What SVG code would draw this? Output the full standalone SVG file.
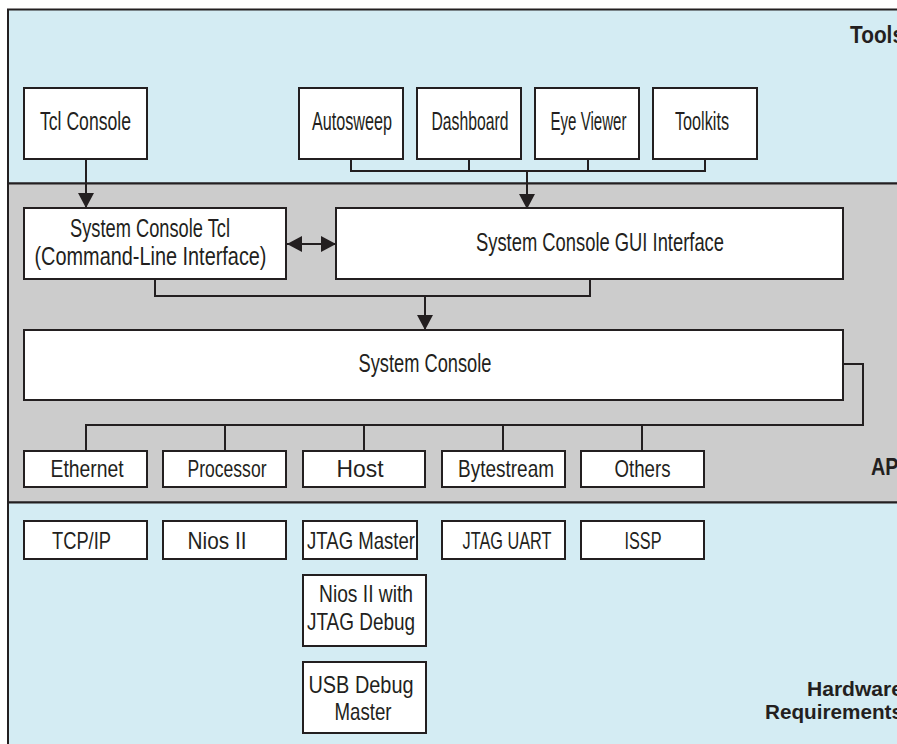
<svg xmlns="http://www.w3.org/2000/svg" width="897" height="744" viewBox="0 0 897 744">
<defs>
<style>
.band{stroke:#231f20;stroke-width:2}
.tools{fill:#d4ecf3}
.api{fill:#cccccc}
.hw{fill:#d4ecf3}
.box{fill:#ffffff;stroke:#231f20;stroke-width:2}
.t{font-family:"Liberation Sans",Arial,sans-serif;fill:#231f20;text-anchor:middle}
.big{font-size:26px}
.sm{font-size:24px}
.lbl{font-family:"Liberation Sans",Arial,sans-serif;font-weight:bold;font-size:24px;fill:#231f20}
.conn{fill:none;stroke:#231f20;stroke-width:2}
</style>
<marker id="ah" viewBox="0 0 15 16" refX="15" refY="8" markerWidth="15" markerHeight="16" markerUnits="userSpaceOnUse" orient="auto-start-reverse">
<path d="M0,0 L15,8 L0,16 z" fill="#231f20"/>
</marker>
</defs>

<g id="bands">
<rect class="band tools" x="8" y="9.5" width="1000" height="174"/>
<rect class="band api" x="8" y="183.5" width="1000" height="319"/>
<rect class="band hw" x="8" y="502.5" width="1000" height="260"/>
<text class="lbl" x="850" y="43" textLength="54" lengthAdjust="spacingAndGlyphs">Tools</text>
<text class="lbl" x="871" y="475" textLength="33" lengthAdjust="spacingAndGlyphs">API</text>
<text class="lbl" x="807" y="696" textLength="96" lengthAdjust="spacingAndGlyphs" style="font-size:21px">Hardware</text>
<text class="lbl" x="765" y="719" textLength="138" lengthAdjust="spacingAndGlyphs" style="font-size:21px">Requirements</text>
</g>

<g id="connectors">
<path class="conn" d="M86,159 V208" marker-end="url(#ah)"/>
<path class="conn" d="M351,159 V171 M469,159 V171 M588,159 V171 M705,159 V171 M350,171 H706"/>
<path class="conn" d="M527,171 V209" marker-end="url(#ah)"/>
<path class="conn" d="M287,244 H336" marker-start="url(#ah)" marker-end="url(#ah)"/>
<path class="conn" d="M155,279 V296 H590 V279"/>
<path class="conn" d="M425,296 V330" marker-end="url(#ah)"/>
<path class="conn" d="M843,364 H863 V425 H86 V451 M225,425 V451 M364,425 V451 M503,425 V451 M642,425 V451"/>
</g>

<g id="tcl-console">
<rect class="box" x="24" y="88" width="123" height="71"/>
<text class="t big" x="85.5" y="130" textLength="91" lengthAdjust="spacingAndGlyphs">Tcl Console</text>
</g>
<g id="autosweep">
<rect class="box" x="299" y="88" width="104" height="71"/>
<text class="t big" x="352" y="130" textLength="80" lengthAdjust="spacingAndGlyphs">Autosweep</text>
</g>
<g id="dashboard">
<rect class="box" x="417" y="88" width="104" height="71"/>
<text class="t big" x="470" y="130" textLength="77" lengthAdjust="spacingAndGlyphs">Dashboard</text>
</g>
<g id="eye-viewer">
<rect class="box" x="535" y="88" width="104" height="71"/>
<text class="t big" x="588.5" y="130" textLength="76" lengthAdjust="spacingAndGlyphs">Eye Viewer</text>
</g>
<g id="toolkits">
<rect class="box" x="653" y="88" width="104" height="71"/>
<text class="t big" x="702" y="130" textLength="54" lengthAdjust="spacingAndGlyphs">Toolkits</text>
</g>

<g id="sc-tcl">
<rect class="box" x="24" y="208" width="262" height="71"/>
<text class="t big" x="150" y="237" textLength="160" lengthAdjust="spacingAndGlyphs">System Console Tcl</text>
<text class="t big" x="150.5" y="265" textLength="232" lengthAdjust="spacingAndGlyphs">(Command-Line Interface)</text>
</g>
<g id="sc-gui">
<rect class="box" x="336" y="208" width="507" height="71"/>
<text class="t big" x="600" y="251" textLength="248" lengthAdjust="spacingAndGlyphs">System Console GUI Interface</text>
</g>
<g id="system-console">
<rect class="box" x="24" y="330" width="819" height="70"/>
<text class="t big" x="425" y="372" textLength="133" lengthAdjust="spacingAndGlyphs">System Console</text>
</g>

<g id="ethernet">
<rect class="box" x="24" y="451" width="123" height="36"/>
<text class="t sm" x="87" y="477" textLength="73" lengthAdjust="spacingAndGlyphs">Ethernet</text>
</g>
<g id="processor">
<rect class="box" x="163" y="451" width="123" height="36"/>
<text class="t sm" x="227" y="477" textLength="79" lengthAdjust="spacingAndGlyphs">Processor</text>
</g>
<g id="host">
<rect class="box" x="303" y="451" width="122" height="36"/>
<text class="t sm" x="360" y="477" textLength="47" lengthAdjust="spacingAndGlyphs">Host</text>
</g>
<g id="bytestream">
<rect class="box" x="442" y="451" width="123" height="36"/>
<text class="t sm" x="506" y="477" textLength="96" lengthAdjust="spacingAndGlyphs">Bytestream</text>
</g>
<g id="others">
<rect class="box" x="581" y="451" width="123" height="36"/>
<text class="t sm" x="642.5" y="477" textLength="56" lengthAdjust="spacingAndGlyphs">Others</text>
</g>

<g id="tcpip">
<rect class="box" x="24" y="521" width="123" height="38"/>
<text class="t sm" x="81.5" y="548.5" textLength="59" lengthAdjust="spacingAndGlyphs">TCP/IP</text>
</g>
<g id="nios-ii">
<rect class="box" x="163" y="521" width="123" height="38"/>
<text class="t sm" x="217" y="548.5" textLength="59" lengthAdjust="spacingAndGlyphs">Nios II</text>
</g>
<g id="jtag-master">
<rect class="box" x="303" y="521" width="114" height="38"/>
<text class="t sm" x="361" y="548.5" textLength="108" lengthAdjust="spacingAndGlyphs">JTAG Master</text>
</g>
<g id="jtag-uart">
<rect class="box" x="442" y="521" width="123" height="38"/>
<text class="t sm" x="507" y="548.5" textLength="89" lengthAdjust="spacingAndGlyphs">JTAG UART</text>
</g>
<g id="issp">
<rect class="box" x="581" y="521" width="123" height="38"/>
<text class="t sm" x="643" y="548.5" textLength="37" lengthAdjust="spacingAndGlyphs">ISSP</text>
</g>
<g id="nios-jtag-debug">
<rect class="box" x="303" y="575" width="123" height="71"/>
<text class="t sm" x="366" y="602" textLength="94" lengthAdjust="spacingAndGlyphs">Nios II with</text>
<text class="t sm" x="361" y="630" textLength="108" lengthAdjust="spacingAndGlyphs">JTAG Debug</text>
</g>
<g id="usb-debug-master">
<rect class="box" x="303" y="662" width="123" height="71"/>
<text class="t sm" x="361" y="693" textLength="105" lengthAdjust="spacingAndGlyphs">USB Debug</text>
<text class="t sm" x="363" y="720" textLength="57" lengthAdjust="spacingAndGlyphs">Master</text>
</g>
</svg>
